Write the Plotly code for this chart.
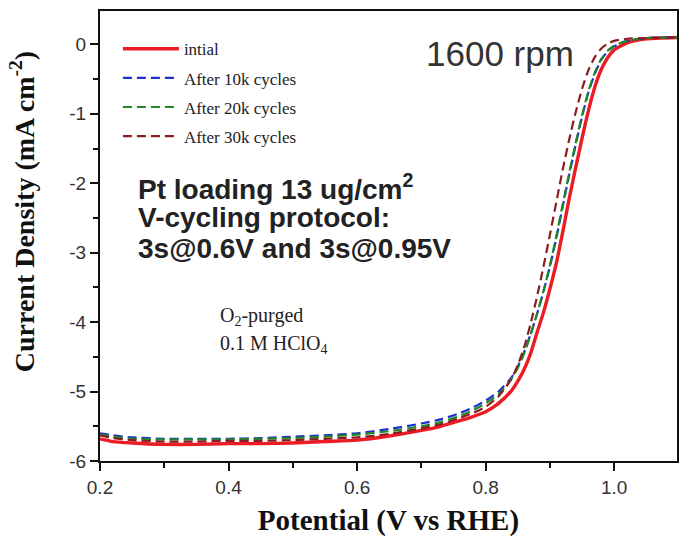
import plotly.graph_objects as go

# ---------------- data ----------------
potential = [0.20, 0.22, 0.25, 0.30, 0.35, 0.40, 0.45, 0.50, 0.55, 0.60, 0.65, 0.70,
             0.73, 0.76, 0.78, 0.80, 0.82, 0.84, 0.85, 0.86, 0.87, 0.88, 0.89, 0.90,
             0.91, 0.92, 0.93, 0.94, 0.95, 0.96, 0.97, 0.98, 0.99, 1.00, 1.02, 1.05, 1.10]

initial = [-5.68, -5.72, -5.74, -5.76, -5.76, -5.75, -5.75, -5.74, -5.72, -5.70, -5.64, -5.56,
           -5.50, -5.42, -5.36, -5.29, -5.17, -4.99, -4.85, -4.68, -4.45, -4.15, -3.86, -3.52,
           -3.15, -2.70, -2.22, -1.78, -1.35, -0.95, -0.61, -0.36, -0.19, -0.08, 0.02, 0.08, 0.10]

after_10k = [-5.60, -5.63, -5.66, -5.68, -5.68, -5.68, -5.67, -5.65, -5.63, -5.60, -5.54, -5.46,
             -5.40, -5.31, -5.23, -5.13, -5.00, -4.80, -4.64, -4.43, -4.17, -3.88, -3.56, -3.20,
             -2.79, -2.33, -1.88, -1.45, -1.04, -0.69, -0.42, -0.22, -0.10, -0.03, 0.05, 0.09, 0.10]

after_20k = [-5.62, -5.65, -5.68, -5.69, -5.69, -5.69, -5.68, -5.67, -5.65, -5.62, -5.57, -5.50,
             -5.44, -5.35, -5.27, -5.17, -5.04, -4.82, -4.66, -4.45, -4.18, -3.88, -3.55, -3.18,
             -2.76, -2.30, -1.85, -1.42, -1.02, -0.67, -0.40, -0.21, -0.09, -0.02, 0.05, 0.09, 0.10]

after_30k = [-5.63, -5.67, -5.70, -5.72, -5.72, -5.71, -5.71, -5.70, -5.68, -5.66, -5.61, -5.53,
             -5.47, -5.38, -5.31, -5.22, -5.07, -4.82, -4.62, -4.36, -4.02, -3.63, -3.20, -2.74,
             -2.27, -1.80, -1.37, -0.98, -0.64, -0.37, -0.18, -0.06, 0.01, 0.05, 0.08, 0.09, 0.10]

series_names = ["intial", "After 10k cycles", "After 20k cycles", "After 30k cycles"]

x_ticks = [0.2, 0.4, 0.6, 0.8, 1.0]
x_tick_labels = ["0.2", "0.4", "0.6", "0.8", "1.0"]
y_ticks = [0, -1, -2, -3, -4, -5, -6]
y_tick_labels = ["0", "-1", "-2", "-3", "-4", "-5", "-6"]

# ---------------- styles ----------------
colors = ["#ec1c24", "#1c2fd0", "#1f8a24", "#8a1c22"]
dashes = ["solid", "9px,5px", "9px,5px", "9px,5px"]
widths = [3.4, 2.2, 2.2, 2.2]

SERIF = "Liberation Serif, Times New Roman, serif"
SANS = "Liberation Sans, Arial, sans-serif"

fig = go.Figure()
for name, ys, c, d, w in zip(series_names, [initial, after_10k, after_20k, after_30k],
                             colors, dashes, widths):
    fig.add_trace(go.Scatter(x=potential, y=ys, mode="lines", name=name,
                             legendgroup=name,
                             line=dict(color=c, dash=d, width=w, shape="spline", smoothing=0.6)))

fig.update_layout(
    width=679, height=537,
    margin=dict(l=100, r=0, t=11, b=76),
    plot_bgcolor="white", paper_bgcolor="white",
    showlegend=True,
    legend=dict(x=0.031, y=0.955, xanchor="left", yanchor="top",
                bgcolor="rgba(0,0,0,0)", borderwidth=0,
                font=dict(family=SERIF, size=17, color="#222"),
                tracegroupgap=4, itemwidth=56),
)

fig.update_xaxes(
    range=[0.2, 1.0977], tickvals=x_ticks, ticktext=x_tick_labels,
    showgrid=False, zeroline=False,
    showline=True, linecolor="#111", linewidth=2, mirror=True,
    ticks="outside", ticklen=8, tickwidth=2, tickcolor="#111",
    minor=dict(ticks="outside", dtick=0.1, ticklen=5, tickwidth=2, tickcolor="#111", showgrid=False),
    tickfont=dict(family=SANS, size=19, color="#333"),
    title=dict(text="<b>Potential (V vs RHE)</b>", font=dict(family=SERIF, size=29, color="#111"),
               standoff=16),
)
fig.update_yaxes(
    range=[-6, 0.48], tickvals=y_ticks, ticktext=y_tick_labels,
    showgrid=False, zeroline=False,
    showline=True, linecolor="#111", linewidth=2, mirror=True,
    ticks="outside", ticklen=8, tickwidth=2, tickcolor="#111",
    minor=dict(ticks="outside", dtick=0.5, ticklen=5, tickwidth=2, tickcolor="#111", showgrid=False),
    tickfont=dict(family=SANS, size=19, color="#333"),
)

# y axis title (placed as rotated text)
fig.add_annotation(text="<b>Current Density (mA cm<sup>-2</sup>)</b>", textangle=-90,
                   xref="paper", yref="paper", x=-0.135, y=0.553,
                   xanchor="center", yanchor="middle", showarrow=False,
                   font=dict(family=SERIF, size=28, color="#111"))

fig.add_annotation(text="1600 rpm", xref="paper", yref="paper", x=0.693, y=0.906,
                   xanchor="center", yanchor="middle", showarrow=False,
                   font=dict(family=SANS, size=35, color="#333"))

bold_lines = ["Pt loading 13 ug/cm<sup>2</sup>", "V-cycling protocol:", "3s@0.6V and 3s@0.95V"]
for i, t in enumerate(bold_lines):
    fig.add_annotation(text="<b>" + t + "</b>", xref="paper", yref="paper",
                       x=0.062, y=0.608 - i * 0.068, xanchor="left", yanchor="middle",
                       showarrow=False, font=dict(family=SANS, size=28, color="#222"))

small_lines = ["O<sub>2</sub>-purged", "0.1 M HClO<sub>4</sub>"]
for i, t in enumerate(small_lines):
    fig.add_annotation(text=t, xref="paper", yref="paper",
                       x=0.205, y=0.322 - i * 0.063, xanchor="left", yanchor="middle",
                       showarrow=False, font=dict(family=SERIF, size=20, color="#222"))

fig.write_html("out.html")
